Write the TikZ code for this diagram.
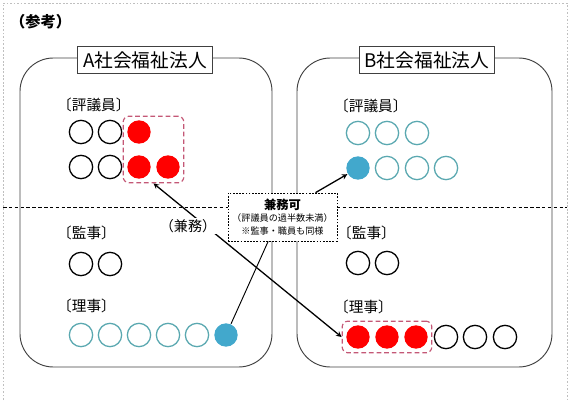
\documentclass[tikz,border=0pt]{standalone}
\usepackage{fontspec}
\setmainfont{Noto Sans CJK JP}
\usepackage{tikz}
\usetikzlibrary{positioning,arrows,fit}
\definecolor{tealline}{RGB}{90,168,176}
\definecolor{bluefill}{RGB}{66,168,204}
\definecolor{grpline}{RGB}{196,88,118}
\tikzstyle{member} = [circle, minimum size=0.7cm, inner sep=0pt, line width=1.1pt]
\tikzstyle{blackmem} = [member, draw=black]
\tikzstyle{tealmem} = [member, draw=tealline]
\tikzstyle{redmem} = [member, fill=red]
\tikzstyle{bluemem} = [member, fill=bluefill]
\tikzstyle{corp} = [draw=black!75, line width=0.8pt, rounded corners=1cm]
\tikzstyle{corptitle} = [draw=black!75, line width=0.8pt, fill=white, minimum width=4.05cm, minimum height=0.81cm, inner sep=0pt, font=\fontsize{16}{17}\selectfont]
\tikzstyle{role} = [anchor=west, inner sep=0pt, font=\fontsize{12.5}{13}\selectfont]
\tikzstyle{group} = [draw=grpline, line width=1pt, dash pattern=on 4pt off 2.5pt, rounded corners=5pt, inner sep=3pt]
\tikzstyle{arrow} = [line width=1.1pt,->,>=stealth]

\begin{document}
\begin{tikzpicture}[x=0.03cm, y=-0.03cm]
	\useasboundingbox (0,0) rectangle (572,400);
	\coordinate (titleA) at (145,60);
	\coordinate (titleB) at (427,60);
	\coordinate (kenmu) at (282.5,217);
	% frame and heading
	\draw[gray!50, line width=0.8pt, dash pattern=on 1.5pt off 1.5pt] (3,400) -- (3,3) -- (567,3) -- (567,400);
	\node[anchor=west, inner sep=0pt, font=\bfseries\fontsize{13}{13}\selectfont] (sanko) at (10,22) {（参考）};
	\draw[line width=0.6pt, dash pattern=on 3pt off 2pt] (3,207) -- (567,207);
	% corporations
	\draw[corp] (20,58) rectangle (272,367);
	\draw[corp] (297,58) rectangle (552,367);
	\node[corptitle, name=titleA] at (titleA) {A社会福祉法人};
	\node[corptitle, name=titleB] at (titleB) {B社会福祉法人};
	% roles
	\begin{scope}[every node/.style={role}]
	\node (hyogiA) at (57,105) {〔評議員〕};
	\node (kanjiA) at (57,233) {〔監事〕};
	\node (rijiA) at (57,306) {〔理事〕};
	\node (hyogiB) at (334,106) {〔評議員〕};
	\node (kanjiB) at (337,233) {〔監事〕};
	\node (rijiB) at (334,307) {〔理事〕};
	\end{scope}
	% members of A
	\foreach \x/\s [count=\i] in {81/blackmem,110/blackmem,139/redmem}
		\node[\s] (aH\i) at (\x,132) {};
	\foreach \x/\s [count=\i from 4] in {81/blackmem,110/blackmem,139/redmem,168/redmem}
		\node[\s] (aH\i) at (\x,167) {};
	\foreach \x [count=\i] in {81,110}
		\node[blackmem] (aK\i) at (\x,264) {};
	\foreach \x/\s [count=\i] in {81/tealmem,110/tealmem,139/tealmem,168/tealmem,197/tealmem,226/bluemem}
		\node[\s] (aR\i) at (\x,335) {};
	% members of B
	\foreach \x [count=\i] in {358,387,417}
		\node[tealmem] (bH\i) at (\x,133) {};
	\foreach \x/\s [count=\i from 4] in {358/bluemem,387/tealmem,417/tealmem,446/tealmem}
		\node[\s] (bH\i) at (\x,168) {};
	\foreach \x [count=\i] in {358,387}
		\node[blackmem] (bK\i) at (\x,263) {};
	\foreach \x/\s [count=\i] in {358/redmem,387/redmem,416/redmem,446/blackmem,475/blackmem,505/blackmem}
		\node[\s] (bR\i) at (\x,337) {};
	% shared members
	\node[group, fit=(aH3)(aH6)(aH7)] (grpA) {};
	\node[group, fit=(bR1)(bR3)] (grpB) {};
	\draw[line width=1.1pt, <->, >=stealth] (grpA.south) -- (grpB.west);
	\node[inner sep=1pt, fill=white, font=\fontsize{12}{12}\selectfont] (kenmuLbl) at (188,226) {（兼務）};
	\node[name=kenmu, draw, fill=white, line width=0.6pt, dash pattern=on 1.5pt off 1.2pt, minimum width=3.27cm, minimum height=1.44cm, inner sep=1pt, align=center, font=\fontsize{7.8}{11}\selectfont] at (kenmu)
		{{\bfseries\fontsize{10.5}{11}\selectfont 兼務可}\\（評議員の過半数未満）\\※監事・職員も同様};
	\draw[line width=0.8pt] (aR6) -- ([xshift=-0.43cm]kenmu.south);
	\draw[arrow] ([xshift=0.99cm]kenmu.north) -- (bH4);
\end{tikzpicture}
\end{document}
